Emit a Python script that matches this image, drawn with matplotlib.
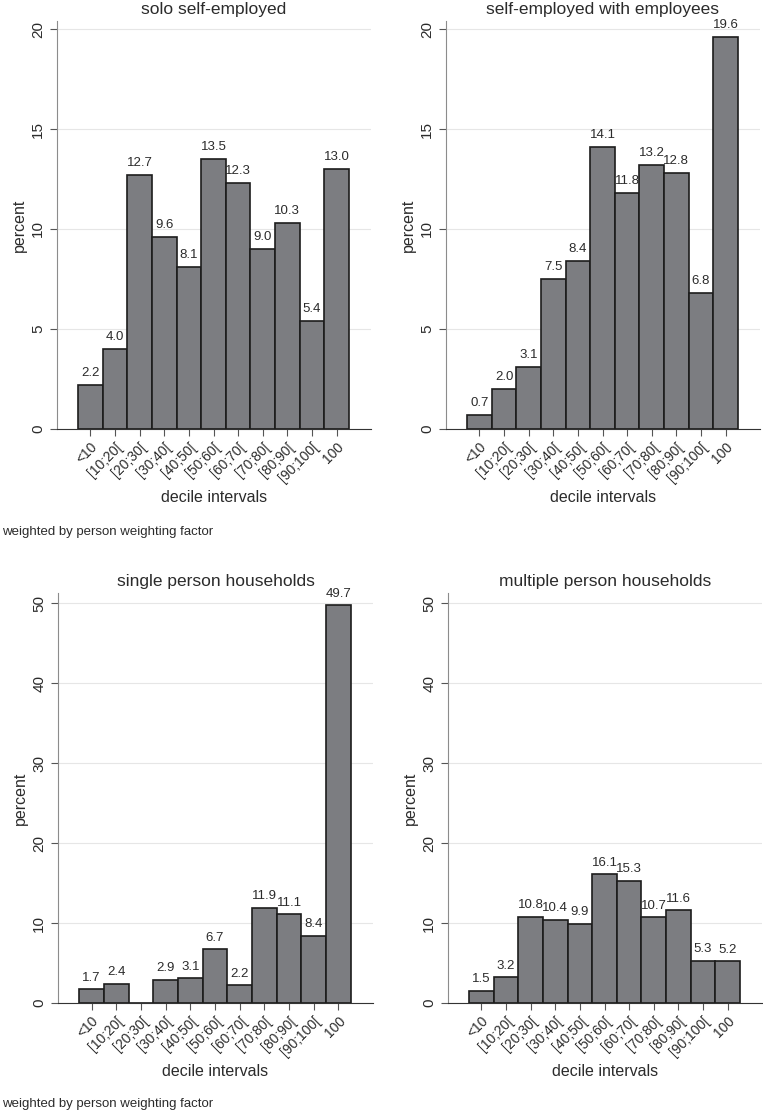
import numpy as np
import matplotlib.pyplot as plt

plt.rcParams['font.family'] = ['Liberation Sans', 'DejaVu Sans']

categories = ["<10", "[10;20[", "[20;30[", "[30;40[", "[40;50[", "[50;60[",
              "[60;70[", "[70;80[", "[80;90[", "[90;100[", "100"]

solo = [2.2, 4.0, 12.7, 9.6, 8.1, 13.5, 12.3, 9.0, 10.3, 5.4, 13.0]
with_emp = [0.7, 2.0, 3.1, 7.5, 8.4, 14.1, 11.8, 13.2, 12.8, 6.8, 19.6]
single_hh = [1.7, 2.4, np.nan, 2.9, 3.1, 6.7, 2.2, 11.9, 11.1, 8.4, 49.7]
multi_hh = [1.5, 3.2, 10.8, 10.4, 9.9, 16.1, 15.3, 10.7, 11.6, 5.3, 5.2]

titles = ["solo self-employed", "self-employed with employees",
          "single person households", "multiple person households"]

BAR_COLOR = "#7c7d81"
EDGE_COLOR = "#1c1c1c"
TEXT_COLOR = "#2b2b2b"

W, H = 763, 1112
fig = plt.figure(figsize=(W / 100, H / 100), dpi=100)


def box(x0, x1, ytop, ybot):
    return [x0 / W, 1 - ybot / H, (x1 - x0) / W, (ybot - ytop) / H]


panels = [
    (box(57, 371, 21, 429), solo, [0, 5, 10, 15, 20], 20.4),
    (box(446, 760, 21, 429), with_emp, [0, 5, 10, 15, 20], 20.4),
    (box(58, 373, 593, 1003), single_hh, [0, 10, 20, 30, 40, 50], 51.25),
    (box(448, 762, 593, 1003), multi_hh, [0, 10, 20, 30, 40, 50], 51.25),
]

x = np.arange(len(categories))

for i, (rect, vals, yticks, ytop) in enumerate(panels):
    ax = fig.add_axes(rect)
    v = np.array(vals, dtype=float)
    ax.bar(x, np.nan_to_num(v), width=1.0, color=BAR_COLOR,
           edgecolor=EDGE_COLOR, linewidth=1.2, zorder=3)
    for xi, val in zip(x, v):
        if np.isnan(val):
            continue
        ax.annotate(f"{val:.1f}", (xi, val), xytext=(0, 4),
                    textcoords="offset points", ha="center", va="bottom",
                    fontsize=9.5, color=TEXT_COLOR)
    ax.set_xlim(-1.36, 11.4)
    ax.set_ylim(0, ytop)
    ax.set_yticks(yticks)
    ax.set_yticklabels([str(t) for t in yticks], rotation=90, va="center",
                       fontsize=11, color=TEXT_COLOR)
    ax.set_xticks(x)
    ax.set_xticklabels(categories, rotation=45, ha="right",
                       rotation_mode="anchor", fontsize=10, color=TEXT_COLOR)
    ax.tick_params(axis="both", length=5, width=0.8, color="#555555")
    ax.tick_params(axis="x", pad=3)
    ax.grid(axis="y", color="#e6e6e6", linewidth=0.8, zorder=0)
    ax.set_axisbelow(True)
    for s in ["top", "right"]:
        ax.spines[s].set_visible(False)
    ax.spines["left"].set_color("#8c8c8c")
    ax.spines["bottom"].set_color("#333333")
    ax.spines["bottom"].set_zorder(4)
    ax.set_title(titles[i], fontsize=12.5, color=TEXT_COLOR, pad=5)
    ax.set_ylabel("percent", fontsize=11.5, color=TEXT_COLOR, labelpad=3)
    ax.set_xlabel("decile intervals", fontsize=11.5, color=TEXT_COLOR,
                  labelpad=3)

fig.text(2 / W, 1 - 532 / H, "weighted by person weighting factor",
         fontsize=9.5, color=TEXT_COLOR, va="center", ha="left")
fig.text(2 / W, 1 - 1104 / H, "weighted by person weighting factor",
         fontsize=9.5, color=TEXT_COLOR, va="center", ha="left")

fig.savefig("out.png", dpi=100, facecolor="white")
